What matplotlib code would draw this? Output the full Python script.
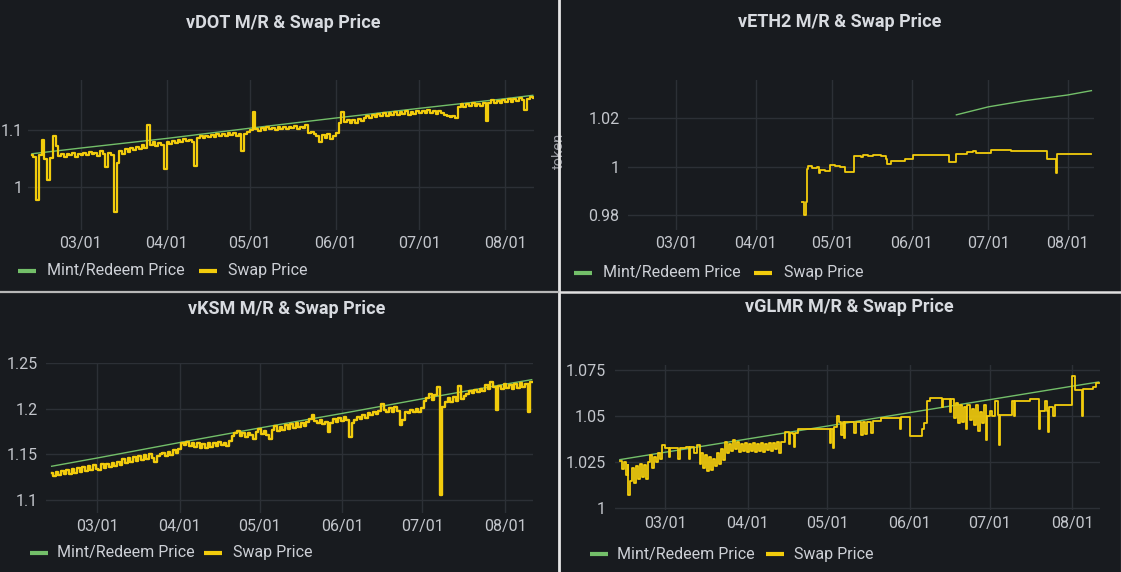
import matplotlib
matplotlib.use("Agg")
import matplotlib.pyplot as plt
import matplotlib.dates as mdates
from matplotlib.lines import Line2D
from matplotlib.ticker import FixedLocator, FuncFormatter
import pandas as pd

W, H = 1121, 572
BG = "#181b1f"
GREEN = "#73bf69"
YELLOW = "#f2cc0c"
GRID = "#2c3036"
TICK = "#c3c6cc"
TEXT = "#cdd0d6"
TITLE = "#d8dbe0"

plt.rcParams['font.family'] = ['Roboto', 'DejaVu Sans']

legend_labels = ["Mint/Redeem Price", "Swap Price"]
titles = ["vDOT M/R & Swap Price", "vETH2 M/R & Swap Price",
          "vKSM M/R & Swap Price", "vGLMR M/R & Swap Price"]

# ---------------- vDOT ----------------
dot_mint_dates = ["2022-02-11 12:00", "2022-03-01", "2022-04-01", "2022-05-01",
                  "2022-06-01", "2022-07-01", "2022-08-01", "2022-08-11"]
dot_mint_vals = [1.058, 1.068, 1.085, 1.103, 1.121, 1.138, 1.155, 1.161]
dot_swap_start = "2022-02-11 12:00"
dot_swap_vals = [
    1.056, 1.052, 0.976, 1.055, 1.082, 1.048, 1.012, 1.051, 1.090, 1.071,
    1.054, 1.058, 1.052, 1.057, 1.055, 1.059, 1.053, 1.058, 1.056, 1.060,
    1.055, 1.061, 1.057, 1.060, 1.054, 1.062, 1.058, 1.035, 1.060, 1.056,
    0.955, 1.041, 1.062, 1.058, 1.066, 1.061, 1.068, 1.064, 1.070, 1.066,
    1.073, 1.069, 1.109, 1.074, 1.078, 1.072, 1.077, 1.074, 1.032, 1.079,
    1.076, 1.081, 1.077, 1.083, 1.079, 1.084, 1.080, 1.083, 1.078, 1.037,
    1.085, 1.089, 1.086, 1.090, 1.087, 1.091, 1.088, 1.092, 1.089, 1.093,
    1.090, 1.094, 1.091, 1.095, 1.089, 1.093, 1.062, 1.092, 1.096, 1.099,
    1.132, 1.101, 1.098, 1.103, 1.100, 1.105, 1.101, 1.104, 1.099, 1.106,
    1.102, 1.105, 1.101, 1.106, 1.103, 1.107, 1.102, 1.106, 1.104, 1.108,
    1.094, 1.097, 1.092, 1.089, 1.079, 1.091, 1.086, 1.092, 1.084, 1.090,
    1.095, 1.112, 1.132, 1.114, 1.118, 1.112, 1.117, 1.113, 1.119, 1.115,
    1.121, 1.125, 1.121, 1.127, 1.123, 1.128, 1.124, 1.129, 1.125, 1.130,
    1.126, 1.131, 1.127, 1.132, 1.128, 1.133, 1.127, 1.132, 1.128, 1.134,
    1.129, 1.134, 1.130, 1.135, 1.129, 1.133, 1.128, 1.134, 1.130, 1.127,
    1.124, 1.122, 1.125, 1.121, 1.141, 1.145, 1.141, 1.146, 1.142, 1.147,
    1.143, 1.146, 1.142, 1.147, 1.115, 1.148, 1.152, 1.147, 1.151, 1.148,
    1.153, 1.149, 1.154, 1.150, 1.155, 1.151, 1.156, 1.152, 1.136, 1.155,
    1.158, 1.156,
]
dot_yticks = [1.0, 1.1]

# ---------------- vETH2 ----------------
eth_mint_dates = ["2022-06-18 12:00", "2022-07-01", "2022-07-15", "2022-08-01", "2022-08-10 08:00"]
eth_mint_vals = [1.0214, 1.0247, 1.0272, 1.0296, 1.0314]
eth_swap_dates = [
    "2022-04-19", "2022-04-20", "2022-04-20 12:00", "2022-04-21", "2022-04-21 12:00",
    "2022-04-23", "2022-04-25", "2022-04-25 18:00", "2022-04-26 06:00", "2022-04-28",
    "2022-04-30", "2022-05-02", "2022-05-04", "2022-05-06", "2022-05-09 10:00",
    "2022-05-12", "2022-05-13", "2022-05-15", "2022-05-17", "2022-05-20",
    "2022-05-22", "2022-05-22 12:00", "2022-05-23 20:00", "2022-05-26", "2022-05-29 08:00",
    "2022-06-01 10:00", "2022-06-08", "2022-06-15", "2022-06-15 18:00", "2022-06-18 12:00",
    "2022-06-22 14:00", "2022-06-25", "2022-06-26", "2022-07-02 04:00", "2022-07-10",
    "2022-07-24 02:00", "2022-07-27 14:00", "2022-07-28", "2022-08-10 08:00",
]
eth_swap_vals = [
    0.9855, 0.9800, 0.9855, 0.9990, 1.0003,
    0.9995, 1.0000, 0.9972, 0.9985, 0.9983,
    1.0007, 1.0002, 1.0000, 0.9977, 1.0044,
    1.0040, 1.0047, 1.0043, 1.0046, 1.0043,
    1.0030, 1.0010, 1.0023, 1.0025, 1.0033,
    1.0048, 1.0047, 1.0046, 1.0019, 1.0052,
    1.0060, 1.0066, 1.0058, 1.0069, 1.0066,
    1.0030, 0.9972, 1.0054, 1.0054,
]
eth_yticks = [0.98, 1.0, 1.02]

# ---------------- vKSM ----------------
ksm_mint_dates = ["2022-02-12", "2022-03-01", "2022-04-01", "2022-05-01",
                  "2022-06-01", "2022-07-01", "2022-08-01", "2022-08-11"]
ksm_mint_vals = [1.137, 1.146, 1.163, 1.179, 1.195, 1.211, 1.227, 1.232]
ksm_swap_start = "2022-02-12"
ksm_swap_vals = [
    1.130, 1.126, 1.131, 1.127, 1.132, 1.128, 1.133, 1.129, 1.134, 1.130,
    1.135, 1.131, 1.136, 1.132, 1.137, 1.133, 1.138, 1.134, 1.133, 1.139,
    1.135, 1.140, 1.136, 1.141, 1.137, 1.142, 1.138, 1.145, 1.141, 1.146,
    1.142, 1.147, 1.143, 1.148, 1.144, 1.149, 1.145, 1.150, 1.146, 1.142,
    1.148, 1.150, 1.152, 1.148, 1.153, 1.149, 1.155, 1.151, 1.156, 1.163,
    1.160, 1.164, 1.159, 1.163, 1.158, 1.162, 1.157, 1.161, 1.157, 1.162,
    1.158, 1.163, 1.159, 1.164, 1.160, 1.163, 1.159, 1.165, 1.170, 1.174,
    1.176, 1.170, 1.174, 1.169, 1.173, 1.171, 1.167, 1.175, 1.178, 1.172,
    1.176, 1.171, 1.167, 1.177, 1.181, 1.176, 1.180, 1.177, 1.182, 1.178,
    1.183, 1.179, 1.184, 1.180, 1.185, 1.181, 1.186, 1.189, 1.193, 1.187,
    1.184, 1.188, 1.183, 1.186, 1.175, 1.185, 1.189, 1.186, 1.190, 1.187,
    1.191, 1.188, 1.169, 1.184, 1.188, 1.191, 1.189, 1.193, 1.190, 1.195,
    1.193, 1.196, 1.194, 1.198, 1.205, 1.199, 1.196, 1.201, 1.197, 1.202,
    1.198, 1.182, 1.188, 1.197, 1.195, 1.199, 1.196, 1.200, 1.197, 1.201,
    1.209, 1.212, 1.216, 1.210, 1.215, 1.224, 1.105, 1.202, 1.208, 1.212,
    1.207, 1.213, 1.209, 1.225, 1.211, 1.214, 1.216, 1.220, 1.217, 1.221,
    1.218, 1.222, 1.220, 1.226, 1.222, 1.229, 1.224, 1.199, 1.225, 1.222,
    1.227, 1.223, 1.226, 1.222, 1.227, 1.223, 1.228, 1.224, 1.227, 1.196,
    1.229,
]
ksm_yticks = [1.1, 1.15, 1.2, 1.25]

# ---------------- vGLMR ----------------
glmr_mint_dates = ["2022-02-12", "2022-03-01", "2022-04-01", "2022-05-01",
                   "2022-06-01", "2022-07-01", "2022-08-01", "2022-08-11"]
glmr_mint_vals = [1.0264, 1.0304, 1.0376, 1.0446, 1.0519, 1.0589, 1.0662, 1.0685]
glmr_swap_dates = [
    "2022-02-12", "2022-02-12 18:00", "2022-02-13 12:00", "2022-02-14 06:00", "2022-02-15",
    "2022-02-15 06:00", "2022-02-15 18:00", "2022-02-16 12:00", "2022-02-17 06:00", "2022-02-18",
    "2022-02-18 18:00", "2022-02-19 12:00", "2022-02-20 06:00", "2022-02-21", "2022-02-21 18:00",
    "2022-02-22 12:00", "2022-02-23 06:00", "2022-02-24", "2022-02-24 18:00", "2022-02-25 12:00",
    "2022-02-26 06:00", "2022-02-27", "2022-02-28", "2022-03-01", "2022-03-02 12:00",
    "2022-03-03", "2022-03-06", "2022-03-06 12:00", "2022-03-09", "2022-03-10",
    "2022-03-10 12:00", "2022-03-12", "2022-03-13", "2022-03-14", "2022-03-14 12:00",
    "2022-03-15 06:00", "2022-03-16", "2022-03-16 18:00", "2022-03-17 12:00", "2022-03-18 06:00",
    "2022-03-19", "2022-03-19 18:00", "2022-03-20 12:00", "2022-03-21 06:00", "2022-03-22",
    "2022-03-22 18:00", "2022-03-23 12:00", "2022-03-24 06:00", "2022-03-25", "2022-03-25 18:00",
    "2022-03-26 12:00", "2022-03-27 06:00", "2022-03-28", "2022-03-28 18:00", "2022-03-29 12:00",
    "2022-03-30 06:00", "2022-03-31", "2022-03-31 18:00", "2022-04-01 12:00", "2022-04-02 06:00",
    "2022-04-03", "2022-04-03 18:00", "2022-04-04 12:00", "2022-04-05 06:00", "2022-04-06",
    "2022-04-06 18:00", "2022-04-07 12:00", "2022-04-08 06:00", "2022-04-09", "2022-04-09 18:00",
    "2022-04-10 12:00", "2022-04-11 06:00", "2022-04-12", "2022-04-13", "2022-04-13 12:00",
    "2022-04-15", "2022-04-16 12:00", "2022-04-17", "2022-04-18", "2022-04-18 12:00",
    "2022-04-19", "2022-04-20", "2022-05-02", "2022-05-02 12:00", "2022-05-03",
    "2022-05-03 12:00", "2022-05-04 12:00", "2022-05-05 12:00", "2022-05-06 06:00", "2022-05-06 18:00",
    "2022-05-07 06:00", "2022-05-07 18:00", "2022-05-11", "2022-05-11 18:00", "2022-05-13 12:00",
    "2022-05-14 06:00", "2022-05-15", "2022-05-15 18:00", "2022-05-17 12:00", "2022-05-18 06:00",
    "2022-05-21", "2022-05-28 06:00", "2022-05-28 18:00", "2022-06-01", "2022-06-05 12:00",
    "2022-06-06 12:00", "2022-06-07 12:00", "2022-06-08 12:00", "2022-06-13", "2022-06-13 12:00",
    "2022-06-16", "2022-06-16 12:00", "2022-06-17 12:00", "2022-06-18 06:00", "2022-06-19",
    "2022-06-19 18:00", "2022-06-20 12:00", "2022-06-21 06:00", "2022-06-22", "2022-06-22 12:00",
    "2022-06-23 12:00", "2022-06-24 06:00", "2022-06-25", "2022-06-25 18:00", "2022-06-26 12:00",
    "2022-06-27 06:00", "2022-06-28", "2022-06-28 18:00", "2022-06-29 12:00", "2022-06-30",
    "2022-07-01", "2022-07-02", "2022-07-03", "2022-07-04", "2022-07-04 12:00",
    "2022-07-05", "2022-07-09 12:00", "2022-07-10", "2022-07-10 12:00", "2022-07-16",
    "2022-07-19 12:00", "2022-07-20", "2022-07-22", "2022-07-22 12:00", "2022-07-23",
    "2022-07-23 12:00", "2022-07-25", "2022-07-25 12:00", "2022-08-01", "2022-08-02",
    "2022-08-04 18:00", "2022-08-05 06:00", "2022-08-09", "2022-08-10", "2022-08-11",
]
glmr_swap_vals = [
    1.0255, 1.0215, 1.0250, 1.0180, 1.0235,
    1.0072, 1.0150, 1.0220, 1.0140, 1.0230,
    1.0160, 1.0240, 1.0170, 1.0235, 1.0160,
    1.0250, 1.0290, 1.0220, 1.0280, 1.0250,
    1.0300, 1.0270, 1.0345, 1.0325, 1.0280,
    1.0325, 1.0270, 1.0325, 1.0330, 1.0265,
    1.0330, 1.0300, 1.0345, 1.0240, 1.0300,
    1.0220, 1.0290, 1.0200, 1.0280, 1.0210,
    1.0270, 1.0230, 1.0300, 1.0240, 1.0320,
    1.0260, 1.0360, 1.0300, 1.0350, 1.0310,
    1.0370, 1.0320, 1.0360, 1.0305, 1.0350,
    1.0310, 1.0355, 1.0305, 1.0350, 1.0310,
    1.0355, 1.0305, 1.0350, 1.0310, 1.0355,
    1.0305, 1.0350, 1.0315, 1.0355, 1.0310,
    1.0355, 1.0320, 1.0360, 1.0300, 1.0360,
    1.0415, 1.0350, 1.0410, 1.0405, 1.0330,
    1.0410, 1.0430, 1.0355, 1.0430, 1.0325,
    1.0440, 1.0500, 1.0470, 1.0400, 1.0470,
    1.0380, 1.0470, 1.0410, 1.0470, 1.0400,
    1.0470, 1.0405, 1.0470, 1.0410, 1.0475,
    1.0490, 1.0430, 1.0495, 1.0390, 1.0430,
    1.0460, 1.0580, 1.0600, 1.0550, 1.0595,
    1.0520, 1.0590, 1.0490, 1.0570, 1.0460,
    1.0560, 1.0470, 1.0550, 1.0430, 1.0560,
    1.0480, 1.0540, 1.0450, 1.0560, 1.0420,
    1.0520, 1.0460, 1.0560, 1.0370, 1.0500,
    1.0530, 1.0500, 1.0580, 1.0505, 1.0345,
    1.0505, 1.0580, 1.0500, 1.0580, 1.0590,
    1.0430, 1.0530, 1.0580, 1.0530, 1.0415,
    1.0550, 1.0500, 1.0560, 1.0718, 1.0640,
    1.0500, 1.0645, 1.0660, 1.0680, 1.0680,
]
glmr_yticks = [1.0, 1.025, 1.05, 1.075]

x_start, x_end = "2022-02-10", "2022-08-11 12:00"


def to_dt(values):
    return pd.to_datetime(values, format="mixed")


fig = plt.figure(figsize=(W / 100, H / 100), dpi=100, facecolor=BG)


def add_px_axes(left, top, right, bottom):
    return fig.add_axes([left / W, 1 - bottom / H, (right - left) / W, (bottom - top) / H])


def style_axes(ax, yticks, ylim, ypad):
    ax.set_facecolor(BG)
    for s in ax.spines.values():
        s.set_visible(False)
    ax.set_xlim(pd.Timestamp(x_start), pd.Timestamp(x_end))
    ax.set_ylim(*ylim)
    ax.xaxis.set_major_locator(mdates.MonthLocator(bymonthday=1))
    ax.xaxis.set_major_formatter(mdates.DateFormatter("%m/%d"))
    ax.yaxis.set_major_locator(FixedLocator(yticks))
    ax.yaxis.set_major_formatter(FuncFormatter(lambda v, p: f"{v:g}"))
    ax.tick_params(axis="both", length=0, colors=TICK, labelsize=11.5)
    ax.tick_params(axis="x", pad=4)
    ax.tick_params(axis="y", pad=ypad)
    ax.grid(True, color=GRID, linewidth=1)
    ax.set_axisbelow(True)


def draw_legend(xg, xt1, xy, xt2, y):
    for x0, c in ((xg, GREEN), (xy, YELLOW)):
        fig.add_artist(Line2D([x0 / W, (x0 + 18) / W], [1 - y / H, 1 - y / H],
                              color=c, linewidth=3, solid_capstyle="butt"))
    fig.text(xt1 / W, 1 - y / H, legend_labels[0], color=TEXT, fontsize=11.5, va="center", ha="left")
    fig.text(xt2 / W, 1 - y / H, legend_labels[1], color=TEXT, fontsize=11.5, va="center", ha="left")


panels = [
    dict(box=(27.8, 80, 534.2, 230), ylim=(0.9236, 1.188), yticks=dot_yticks, ypad=3.5,
         mint=(dot_mint_dates, dot_mint_vals),
         swap=(pd.date_range(dot_swap_start, periods=len(dot_swap_vals), freq="D"), dot_swap_vals),
         style=("steps-mid", 1.6), title=(283, 23), legend=(18, 47, 199, 227.5, 271)),
    dict(box=(627.9, 80, 1094.4, 230), ylim=(0.9738, 1.0358), yticks=eth_yticks, ypad=6,
         mint=(eth_mint_dates, eth_mint_vals),
         swap=(to_dt(eth_swap_dates), eth_swap_vals),
         style=("steps-post", 1.3), title=(840, 22), legend=(574, 603, 754, 784, 273)),
    dict(box=(46.3, 363, 533, 513), ylim=(1.0857, 1.2503), yticks=ksm_yticks, ypad=6,
         mint=(ksm_mint_dates, ksm_mint_vals),
         swap=(pd.date_range(ksm_swap_start, periods=len(ksm_swap_vals), freq="D"), ksm_swap_vals),
         style=("steps-mid", 1.7), title=(287, 309), legend=(30, 57, 204, 233, 553)),
    dict(box=(614.5, 365, 1100, 510), ylim=(0.9991, 1.0777), yticks=glmr_yticks, ypad=6,
         mint=(glmr_mint_dates, glmr_mint_vals),
         swap=(to_dt(glmr_swap_dates), glmr_swap_vals),
         style=("steps-post", 1.3), title=(849, 307), legend=(590, 617, 766, 794, 554)),
]

for p, t in zip(panels, titles):
    ax = add_px_axes(*p["box"])
    style_axes(ax, p["yticks"], p["ylim"], p["ypad"])
    md, mv = p["mint"]
    ax.plot(to_dt(md), mv, color=GREEN, linewidth=1.0, zorder=3)
    sd, sv = p["swap"]
    ds, lw = p["style"]
    ax.plot(sd, sv, color=YELLOW, linewidth=lw, drawstyle=ds, zorder=4)
    tx, ty = p["title"]
    fig.text(tx / W, 1 - ty / H, t, color=TITLE, fontsize=13, fontweight="bold",
             ha="center", va="center")
    draw_legend(*p["legend"])

# axis label fragment of the top-right panel (mostly hidden under the separator)
fig.text(559 / W, 1 - 151 / H, "token", color="#9a9ca3", fontsize=10.5, rotation=90,
         ha="center", va="center", zorder=1)

# panel separators
fig.add_artist(Line2D([559 / W, 559 / W], [0, 1], color="#e6e6e6", linewidth=2.0, zorder=10))
fig.add_artist(Line2D([0, 559 / W], [1 - 292 / H, 1 - 292 / H], color="#b8b8b8", linewidth=1.6, zorder=10))
fig.add_artist(Line2D([560 / W, 1], [1 - 292 / H, 1 - 292 / H], color="#e0e0e0", linewidth=1.8, zorder=10))
fig.add_artist(Line2D([1120.5 / W, 1120.5 / W], [0, 1], color="#cfcfcf", linewidth=0.8, zorder=10))

fig.savefig("out.png", dpi=100, facecolor=BG)
